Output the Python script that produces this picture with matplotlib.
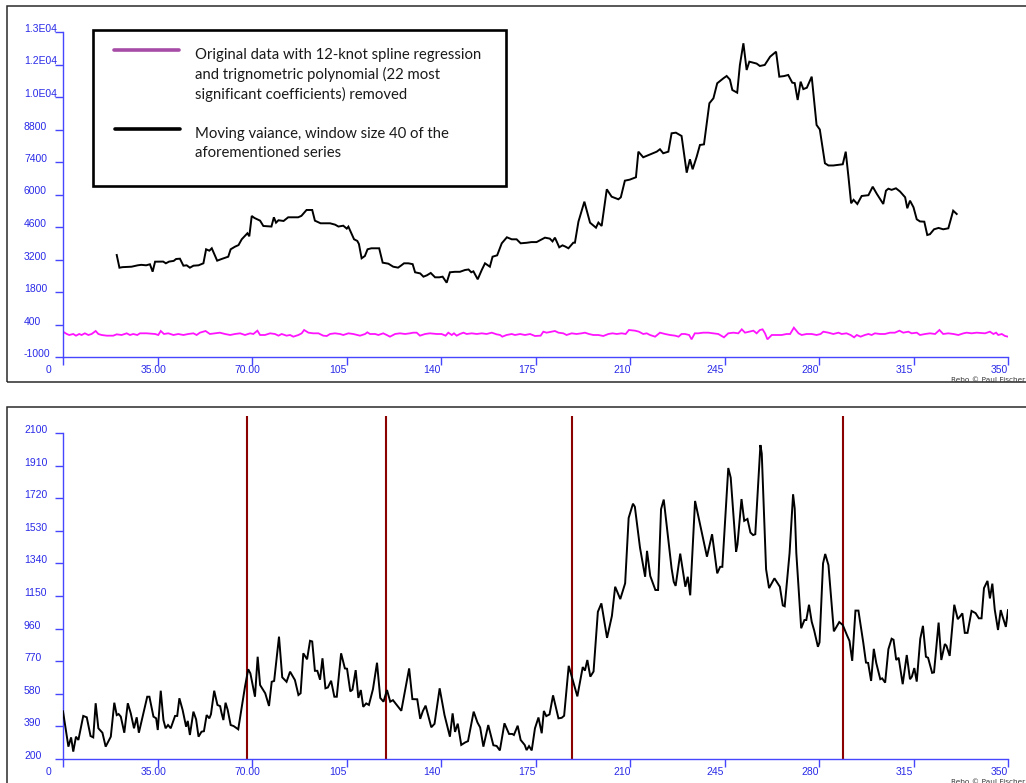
import matplotlib
matplotlib.use("Agg")
import matplotlib.pyplot as plt
from matplotlib.transforms import ScaledTranslation
from matplotlib.patches import Rectangle
from matplotlib.lines import Line2D

# ---------------------------------------------------------------- data
x_ticks = [0, 35, 70, 105, 140, 175, 210, 245, 280, 315, 350]
x_tick_labels = ["0", "35.00", "70.00", "105", "140", "175", "210", "245", "280", "315", "350"]

top_y_ticks = [-1000, 400, 1800, 3200, 4600, 6000, 7400, 8800, 10200, 11600, 13000]
top_y_labels = ["-1000", "400", "1800", "3200", "4600", "6000", "7400", "8800", "1.0E04", "1.2E04", "1.3E04"]

bot_y_ticks = [200, 390, 580, 770, 960, 1150, 1340, 1530, 1720, 1910, 2100]
bot_y_labels = [str(v) for v in bot_y_ticks]

# residual series (spline + trigonometric fit removed)
detrended_x = [0, 1.4, 2.3, 3.8, 4.8, 6.0, 6.9, 8.1, 9.4, 10.6, 12.1, 13.1, 14.3, 16.2, 18.6, 19.9,
               21.7, 23.6, 24.8, 26.0, 27.5, 28.5, 31.0, 34.1, 35.3, 36.2, 37.4, 39.0, 40.9, 42.7,
               44.6, 46.4, 48.3, 49.5, 50.7, 52.8, 54.4, 56.3, 58.1, 60.0, 61.9, 63.7, 65.6, 67.4,
               69.3, 70.5, 72.0, 73.0, 74.8, 76.7, 78.5, 79.8, 81.0, 82.8, 84.1, 85.3, 87.2, 88.4,
               89.3, 90.9, 92.7, 94.6, 96.4, 97.7, 98.9, 100.7, 102.6, 103.8, 105.7, 107.5, 110.0,
               111.9, 112.7, 113.7, 115.6, 116.8, 118.6, 119.9, 121.1, 123.0, 124.8, 126.7, 128.5,
               129.7, 131.0, 132.2, 134.1, 135.9, 138.4, 140.2, 141.7, 142.7, 144.0, 144.8, 145.8,
               147.0, 148.3, 149.5, 151.4, 153.2, 155.1, 156.9, 158.8, 160.6, 161.9, 162.7, 164.3,
               166.2, 167.4, 169.3, 171.1, 173.0, 174.8, 176.9, 177.9, 179.1, 181.0, 182.2, 183.5,
               185.3, 186.5, 188.4, 190.2, 192.1, 193.3, 194.8, 196.4, 198.3, 200.1, 202.0, 203.5,
               205.1, 206.9, 208.4, 209.6, 211.9, 213.3, 214.9, 216.2, 217.4, 219.3, 221.1, 223.0,
               224.8, 226.7, 228.0, 229.1, 230.4, 231.9, 232.8, 234.0, 235.3, 237.1, 239.0, 240.9,
               242.7, 244.0, 244.8, 246.4, 248.3, 250.1, 251.4, 252.6, 254.2, 255.7, 256.9, 258.1,
               259.1, 260.0, 260.9, 262.5, 266.2, 268.0, 269.3, 270.7, 272.4, 273.6, 275.4, 277.3,
               279.1, 280.6, 281.6, 283.5, 285.3, 287.2, 288.4, 290.2, 291.7, 293.0, 294.0, 295.4,
               297.0, 298.3, 299.5, 300.7, 302.6, 304.4, 306.3, 308.1, 309.8, 311.2, 313.1, 314.3,
               316.2, 317.4, 319.3, 321.1, 323.0, 324.6, 326.0, 327.9, 329.8, 331.6, 333.5, 334.7,
               336.5, 338.4, 341.5, 343.3, 344.6, 345.6, 346.4, 347.7, 348.9, 350.0]
detrended_y = [91, -9, -52, -9, -81, -9, -52, 20, -52, -9, 120, -9, -52, -81, -81, -23,
               -52, 20, -52, -9, -52, 20, 20, -9, -52, 120, -9, 20, -52, -9,
               -52, -9, 20, -52, 48, 120, -9, 20, 48, -9, -52, -9, 20, -52,
               20, -9, 134, -52, -52, 20, -9, -81, -9, -81, -52, -124, -52, 20,
               163, 48, 20, 20, -81, -95, -9, 20, -9, -52, 20, -9, -81,
               -9, 63, -9, -9, -52, 20, -52, -124, -9, 20, -9, 20,
               48, 48, -81, -9, 20, -9, -9, -81, 48, -52, 20, -81,
               -9, 48, -9, 20, -9, 20, -9, 48, -23, -52, -124, -52,
               -9, -52, -9, -52, -9, -95, -81, 91, 48, 91, 120, 48,
               20, -52, 20, -9, 20, 48, -9, -52, -52, -95, -9, 20,
               -9, 20, -9, 163, 134, 91, -9, 20, -52, -124, 48, -9,
               -52, -81, -124, -9, -9, -52, -239, 20, 20, 48, 48, 20,
               -9, -95, -153, 20, 48, 20, 192, 48, 91, 134, 20, 163,
               192, 20, -239, -52, -52, -9, -9, 264, 20, -52, -9, -9,
               -52, -9, 91, 48, -9, 48, -9, 20, -52, -153, -52, -124,
               -52, -9, -52, 20, -9, -9, 48, 48, 134, 48, 91, 20,
               48, -52, -9, 20, -9, 163, -9, 20, -9, -52, 20, 48,
               20, 48, 20, 91, -9, 48, -52, -9, -95, -124]

# moving variance, window 40
movvar_x = [19.9, 20.9, 22.0, 25.4, 27.7, 29.0, 30.8, 32.2, 33.2, 34.1, 37.1, 38.1, 39.3, 41.0,
            41.9, 43.3, 44.6, 45.8, 47.0, 48.3, 50.2, 52.0, 53.0, 54.2, 55.1, 57.1, 58.7, 61.2,
            62.1, 63.7, 65.0, 66.2, 68.3, 69.0, 69.9, 70.9, 73.0, 74.2, 77.2, 78.1, 78.9, 79.8,
            81.7, 83.4, 84.6, 87.1, 88.3, 90.2, 92.3, 93.3, 95.4, 98.9, 100.8, 102.0, 103.8,
            105.1, 105.7, 107.8, 109.0, 109.6, 110.6, 111.8, 112.8, 114.2, 117.1, 118.4, 120.5,
            122.3, 124.1, 125.1, 126.3, 127.9, 129.5, 130.4, 132.3, 133.5, 134.8, 136.2, 137.8,
            139.4, 140.6, 142.1, 143.3, 145.1, 147.0, 148.9, 150.2, 151.2, 152.0, 153.6, 155.1,
            156.3, 158.1, 159.1, 160.8, 162.5, 164.4, 166.2, 168.0, 169.5, 171.7, 173.5, 175.4,
            177.3, 178.5, 180.3, 181.3, 182.2, 183.8, 185.0, 186.0, 187.2, 189.0, 189.6, 190.9,
            193.1, 195.2, 197.4, 198.3, 199.5, 201.4, 203.2, 205.7, 206.6, 208.1, 209.9, 212.2,
            213.1, 214.9, 218.0, 219.9, 221.1, 222.3, 224.2, 225.4, 227.0, 229.1, 230.0, 231.0,
            232.2, 233.2, 234.7, 235.9, 237.4, 239.4, 240.9, 242.3, 244.6, 245.8, 247.0, 247.9,
            249.7, 250.7, 252.0, 253.2, 254.2, 256.9, 258.1, 259.9, 261.9, 264.1, 265.3, 267.0,
            268.6, 270.1, 271.0, 272.1, 273.2, 274.2, 275.5, 277.3, 279.1, 280.3, 282.2, 283.5,
            285.3, 288.8, 289.9, 290.9, 291.9, 292.8, 294.2, 295.8, 298.3, 299.9, 301.4, 303.8,
            304.8, 305.7, 306.9, 308.5, 310.0, 311.9, 312.7, 313.7, 315.0, 316.2, 317.4, 319.0,
            320.1, 321.1, 322.6, 324.3, 326.0, 327.9, 329.7, 331.0]
movvar_y = [3394, 2847, 2870, 2890, 2950, 2970, 2950, 2994, 2675, 3106, 3110, 3036, 3110, 3140,
            3222, 3235, 2933, 2950, 2847, 2933, 2950, 3036, 3640, 3580, 3683, 3149, 3220, 3321,
            3640, 3752, 3820, 4071, 4330, 4200, 5075, 4990, 4873, 4644, 4620, 5018, 4786, 4890,
            4860, 5018, 5018, 5018, 5080, 5333, 5333, 4873, 4760, 4760, 4700, 4620, 4656,
            4530, 4615, 4071, 4000, 3868, 3252, 3350, 3640, 3683, 3683, 3063, 3020,
            2890, 2850, 2930, 3036, 3036, 3000, 2649, 2600, 2460, 2520, 2620, 2433,
            2433, 2460, 2201, 2649, 2670, 2670, 2748, 2770, 2650, 2690, 2347, 2750,
            3036, 2890, 3321, 3380, 3898, 4157, 4070, 4070, 3898, 3920, 3950, 3950,
            4070, 4141, 4100, 3980, 4141, 3726, 3810, 3760, 3683, 3924, 3924, 4829,
            5691, 4786, 4570, 4790, 4644, 6224, 5906, 5794, 5880, 6596, 6640, 6742,
            7845, 7603, 7750, 7845, 7950, 7776, 7845, 8637, 8663, 8521, 7776, 6940,
            7517, 7086, 7629, 8133, 8160, 9930, 10145, 10791, 11006, 11105, 10950, 10502,
            10386, 11580, 12514, 11364, 11722, 11640, 11536, 11580, 11937, 12152, 11076, 11100,
            11149, 10817, 10800, 10071, 10860, 10540, 10600, 11076, 8995, 8800, 7345, 7250,
            7250, 7302, 7845, 6768, 5622, 5770, 5591, 5936, 5970, 6336, 6030, 5591,
            6164, 6250, 6200, 6267, 6130, 5880, 5406, 5734, 5450, 4932, 4840, 4829,
            4256, 4290, 4501, 4560, 4501, 4544, 5303, 5161]

# lower panel series
lower_x = [0, 2.0, 3.0, 3.8, 4.8, 5.7, 7.5, 8.8, 10.2, 11.2, 12.1, 13.1, 14.6, 15.8, 17.7, 19.0,
           19.9, 20.6, 21.4, 22.7, 24.0, 25.1, 26.3, 27.3, 28.1, 31.2, 32.0, 33.5, 34.5, 35.1,
           36.2, 37.2, 38.0, 38.9, 39.9, 41.5, 42.3, 43.1, 44.3, 45.6, 46.2, 47.0, 48.3, 49.3,
           50.2, 51.3, 52.2, 53.2, 54.2, 54.8, 56.0, 57.2, 58.2, 58.7, 59.4, 60.2, 61.0, 62.1,
           63.2, 64.9, 67.4, 68.6, 69.4, 71.1, 72.1, 73.0, 74.9, 76.3, 77.3, 78.2, 80.0, 81.2,
           82.8, 84.1, 85.9, 87.2, 88.0, 89.0, 90.4, 91.5, 92.3, 93.3, 94.2, 95.2, 96.1, 97.2,
           98.1, 99.3, 100.5, 101.4, 103.0, 104.4, 105.2, 106.4, 107.2, 108.4, 109.4, 110.3,
           111.2, 112.3, 113.3, 114.8, 116.3, 117.5, 118.7, 120.0, 121.2, 122.2, 125.3, 128.2,
           129.4, 131.2, 132.3, 133.3, 134.3, 136.4, 137.6, 139.5, 141.3, 143.3, 144.3, 145.2,
           146.2, 147.5, 149.0, 150.0, 152.1, 153.5, 154.5, 155.7, 157.5, 159.4, 160.6, 161.8,
           163.5, 165.2, 166.4, 167.0, 168.4, 169.5, 171.0, 171.7, 172.6, 173.6, 174.8, 176.1,
           177.3, 178.1, 179.0, 180.2, 181.5, 183.5, 184.7, 185.6, 187.3, 190.5, 192.5, 193.3,
           194.2, 195.3, 196.5, 198.1, 199.4, 201.5, 203.3, 204.5, 206.4, 208.2, 209.5, 211.1,
           211.8, 213.7, 215.6, 216.3, 217.5, 219.4, 220.4, 221.5, 222.5, 225.4, 226.2, 226.9,
           228.6, 230.5, 231.4, 232.3, 234.1, 236.2, 238.5, 240.4, 242.3, 243.4, 244.2, 246.4,
           247.3, 249.3, 249.8, 251.3, 252.3, 253.5, 254.6, 255.6, 256.4, 258.3, 258.8, 260.4,
           261.5, 263.5, 265.5, 266.6, 267.3, 269.1, 270.4, 271.0, 271.6, 273.4, 274.6, 275.3,
           276.3, 277.3, 278.2, 279.6, 280.2, 281.5, 282.3, 283.5, 285.5, 287.5, 288.8, 289.6,
           290.4, 291.3, 292.3, 293.5, 294.6, 296.4, 297.4, 298.2, 299.3, 300.3, 301.2, 302.7,
           303.4, 304.5, 305.7, 306.9, 307.6, 308.6, 309.5, 311.0, 312.5, 313.7, 314.4, 315.3,
           316.2, 317.5, 318.5, 319.6, 320.4, 321.9, 322.6, 324.3, 325.3, 326.6, 327.2, 328.4,
           330.1, 331.4, 332.2, 333.1, 334.0, 335.0, 336.5, 338.0, 339.2, 340.2, 341.1, 342.4,
           343.3, 344.2, 345.1, 346.3, 347.3, 348.0, 349.2, 350.0]
lower_y = [478, 272, 326, 243, 330, 311, 451, 443, 334, 326, 525, 379, 353, 272, 330, 528,
           456, 462, 447, 353, 525, 466, 379, 443, 353, 563, 563, 447, 437, 369,
           598, 427, 379, 398, 379, 451, 451, 554, 486, 388, 422, 340, 476, 431,
           330, 359, 362, 456, 437, 461, 598, 515, 508, 470, 427, 528, 486, 398,
           392, 373, 621, 723, 699, 563, 796, 631, 583, 509, 650, 655, 913, 676,
           650, 709, 660, 573, 583, 816, 781, 889, 885, 714, 714, 662, 787, 612,
           617, 656, 563, 563, 816, 728, 726, 594, 604, 718, 556, 602,
           504, 524, 515, 607, 761, 556, 534, 602, 534, 543, 481, 728,
           549, 548, 434, 480, 511, 385, 405, 612, 456, 330, 466, 358,
           406, 282, 297, 304, 476, 413, 384, 272, 398, 280, 276, 250,
           408, 346, 346, 340, 394, 311, 282, 252, 275, 250, 379, 442,
           350, 480, 450, 460, 571, 437, 440, 452, 743, 565, 736, 715,
           777, 680, 710, 1058, 1107, 906, 1034, 1204, 1132, 1224, 1605, 1688,
           1670, 1432, 1262, 1413, 1267, 1185, 1185, 1656, 1712, 1311, 1233, 1209,
           1397, 1204, 1262, 1154, 1704, 1549, 1379, 1510, 1282, 1320, 1320, 1896,
           1840, 1408, 1450, 1715, 1588, 1599, 1520, 1505, 1510, 2030, 1980, 1306,
           1196, 1253, 1204, 1095, 1090, 1400, 1743, 1660, 1400, 962, 1010, 1010,
           1099, 1000, 950, 854, 880, 1340, 1395, 1330, 944, 998, 981, 950,
           920, 888, 772, 1065, 1065, 878, 762, 760, 655, 842, 760, 665,
           670, 645, 840, 901, 895, 777, 790, 636, 806, 665, 680, 730,
           651, 900, 976, 796, 790, 702, 705, 995, 777, 870, 860, 801,
           1099, 1015, 1030, 1049, 935, 935, 1063, 1050, 1020, 1020, 1196, 1238,
           1136, 1222, 1070, 952, 1068, 1030, 970, 1068]

# change points marked in the lower panel
breaks_x = [68, 119.5, 188.5, 289]
break_top = 2200

legend_labels = ["Original data with 12-knot spline regression\nand trignometric polynomial (22 most\nsignificant coefficients) removed",
                 "Moving vaiance, window size 40 of the\naforementioned series"]

# ---------------------------------------------------------------- layout helpers
W, H = 1026, 783
fig = plt.figure(figsize=(W / 100, H / 100), dpi=100)
fig.patch.set_facecolor("white")


def fx(px):
    return px / W


def fy(py):
    return 1 - py / H


AXIS_BLUE = "#4646FF"
LABEL_BLUE = "#2A2AE8"
TICK_FONT = "Liberation Sans"
x_label_shift = [-14, -4, -4.4, -9, -8.7, -8.3, -8.3, -9, -8.5, -9, -8.3]


def style(ax, yticks, ylabels, ylim):
    ax.set_xlim(0, 350)
    ax.set_ylim(*ylim)
    ax.patch.set_visible(False)
    for s in ("top", "right"):
        ax.spines[s].set_visible(False)
    for s in ("left", "bottom"):
        ax.spines[s].set_color(AXIS_BLUE)
        ax.spines[s].set_linewidth(1.0)
    ax.set_xticks(x_ticks)
    ax.set_xticklabels(x_tick_labels)
    ax.set_yticks(yticks)
    ax.set_yticklabels(ylabels)
    ax.tick_params(axis="both", direction="out", length=5.8, width=1.0, color=AXIS_BLUE,
                   labelcolor=LABEL_BLUE, labelsize=7.5)
    ax.tick_params(axis="y", pad=22.3)
    ax.tick_params(axis="x", pad=0.3)
    for lbl in ax.get_yticklabels() + ax.get_xticklabels():
        lbl.set_fontfamily(TICK_FONT)
    for lbl in ax.get_yticklabels():
        lbl.set_horizontalalignment("left")
        lbl.set_verticalalignment("baseline")
    for tick, dx in zip(ax.xaxis.get_major_ticks(), x_label_shift):
        lab = tick.label1
        lab.set_transform(lab.get_transform() + ScaledTranslation(dx / 100, 0, fig.dpi_scale_trans))


# panel frames
fig.add_artist(Rectangle((fx(7), fy(382)), fx(1040) - fx(7), fy(6) - fy(382),
                         transform=fig.transFigure, fill=False, ec="#2a2a2a", lw=1.1))
fig.add_artist(Rectangle((fx(7), fy(800)), fx(1040) - fx(7), fy(407) - fy(800),
                         transform=fig.transFigure, fill=False, ec="#2a2a2a", lw=1.1))

# ---------------------------------------------------------------- top panel
ax1 = fig.add_axes([fx(63), fy(357), 945 / W, 325 / H])
style(ax1, top_y_ticks, top_y_labels, (-1000, 13000))
ax1.plot(detrended_x, detrended_y, color="#FF14FF", lw=1.3, solid_joinstyle="miter")
ax1.plot(movvar_x, movvar_y, color="black", lw=1.4, solid_joinstyle="miter")

# legend box
fig.add_artist(Rectangle((fx(92.5), fy(185.5)), fx(505.5) - fx(92.5), fy(29.5) - fy(185.5),
                         transform=fig.transFigure, fill=True, fc="white", ec="black", lw=1.9))
fig.add_artist(Line2D([fx(114), fx(179)], [fy(50), fy(50)], transform=fig.transFigure,
                      color="#A64CA6", lw=2.6, solid_capstyle="round"))
fig.add_artist(Line2D([fx(115), fx(180)], [fy(128.5), fy(128.5)], transform=fig.transFigure,
                      color="black", lw=2.6, solid_capstyle="round"))
LEG_FONT = dict(family="Lato", fontsize=10.75, color="#1a1a1a", linespacing=1.41)
fig.text(fx(195), fy(48), legend_labels[0], ha="left", va="top", **LEG_FONT)
fig.text(fx(195), fy(127), legend_labels[1], ha="left", va="top", **LEG_FONT)

# ---------------------------------------------------------------- bottom panel
ax2 = fig.add_axes([fx(63), fy(759), 945 / W, 326 / H])
style(ax2, bot_y_ticks, bot_y_labels, (200, 2100))
ax2.vlines(breaks_x, 200, break_top, colors="#8B0000", lw=1.5, clip_on=False, zorder=1)
ax2.plot(lower_x, lower_y, color="black", lw=1.4, solid_joinstyle="miter", zorder=3)

# credits
for yb in (382, 784):
    fig.text(fx(1025), fy(yb), "Rebo \u00a9 Paul Fischer", ha="right", va="baseline",
             fontsize=5.3, color="#3a3a3a", family="DejaVu Sans")

fig.savefig("out.png", dpi=100)
